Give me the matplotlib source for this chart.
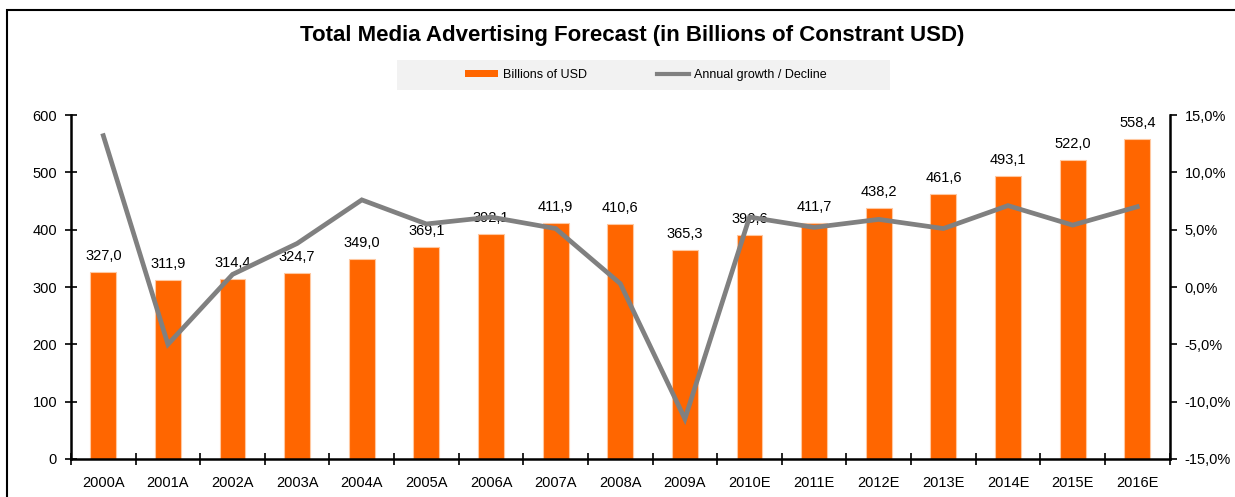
import numpy as np
import matplotlib.pyplot as plt
from matplotlib.patches import Rectangle
from matplotlib.lines import Line2D
from matplotlib.ticker import FuncFormatter

plt.rcParams["font.family"] = ["Liberation Sans", "DejaVu Sans"]

years = ["2000A", "2001A", "2002A", "2003A", "2004A", "2005A", "2006A", "2007A", "2008A",
         "2009A", "2010E", "2011E", "2012E", "2013E", "2014E", "2015E", "2016E"]
spend = [327.0, 311.9, 314.4, 324.7, 349.0, 369.1, 392.1, 411.9, 410.6,
         365.3, 390.6, 411.7, 438.2, 461.6, 493.1, 522.0, 558.4]
growth = [13.2, -5.0, 1.1, 3.8, 7.6, 5.5, 6.1, 5.1, 0.3,
          -11.5, 6.1, 5.2, 5.9, 5.1, 7.1, 5.4, 7.0]

ORANGE = "#ff6600"
GREY = "#808080"

fig = plt.figure(figsize=(12.35, 4.97), dpi=100)
ax = fig.add_axes([0.0575, 0.0765, 0.8895, 0.692])
x = np.arange(len(years))

ax.bar(x, spend, width=0.4, color=ORANGE, edgecolor="#ffc8a0", linewidth=0.8, zorder=2)
for xi, v in zip(x, spend):
    ax.annotate(f"{v:.1f}".replace(".", ","), (xi, v), xytext=(0, 6.5),
                textcoords="offset points", ha="center", va="bottom", fontsize=10.5)

ax.set_xlim(-0.5, len(years) - 0.5)
ax.set_ylim(0, 600)
ax.set_yticks(range(0, 601, 100))
ax.set_xticks(x)
ax.set_xticklabels(years)
ax.set_xticks(np.arange(-0.5, len(years)), minor=True)
ax.tick_params(axis="x", which="major", length=0, pad=12, labelsize=10.5)
ax.tick_params(axis="x", which="minor", direction="inout", length=8, width=1.2)
ax.tick_params(axis="y", direction="inout", length=8, width=1.2, labelsize=10.5, pad=6)
for s in ["top", "right"]:
    ax.spines[s].set_visible(False)
for s in ["left", "bottom"]:
    ax.spines[s].set_linewidth(1.8)

# growth line on the secondary axis
ax2 = ax.twinx()
ax2.plot(x, growth, color=GREY, linewidth=3.4, solid_joinstyle="miter", zorder=3)
ax2.set_ylim(-15, 15)
ax2.set_yticks(range(-15, 16, 5))
ax2.yaxis.set_major_formatter(FuncFormatter(lambda v, p: f"{v:.1f}%".replace(".", ",")))
ax2.tick_params(axis="y", direction="out", length=5, width=1.2, labelsize=10.5, pad=6)
for s in ["top", "left", "bottom"]:
    ax2.spines[s].set_visible(False)
ax2.spines["right"].set_linewidth(1.8)

fig.text(0.512, 1 - 35 / 497, "Total Media Advertising Forecast (in Billions of Constrant USD)",
         ha="center", va="center", fontsize=16, fontweight="bold")

# legend with light grey band behind it
fig.add_artist(Rectangle((397 / 1235, 1 - 90 / 497), 493 / 1235, 30 / 497,
                         transform=fig.transFigure, facecolor="#f2f2f2", edgecolor="none"))
handles = [Rectangle((0, 0), 1, 1, facecolor=ORANGE),
           Line2D([], [], color=GREY, linewidth=3)]
fig.legend(handles, ["Billions of USD", "Annual growth / Decline"], loc="center",
           bbox_to_anchor=(0.523, 1 - 75 / 497), ncol=2, frameon=False, fontsize=9,
           handlelength=2.6, handleheight=0.5, columnspacing=5.6, handletextpad=0.4)

# outer frame
fig.add_artist(Rectangle((7 / 1235, -0.1), 1.2, 1.1 - 10 / 497, transform=fig.transFigure,
                         fill=False, edgecolor="black", linewidth=1.5))

fig.savefig("out.png", dpi=100)
